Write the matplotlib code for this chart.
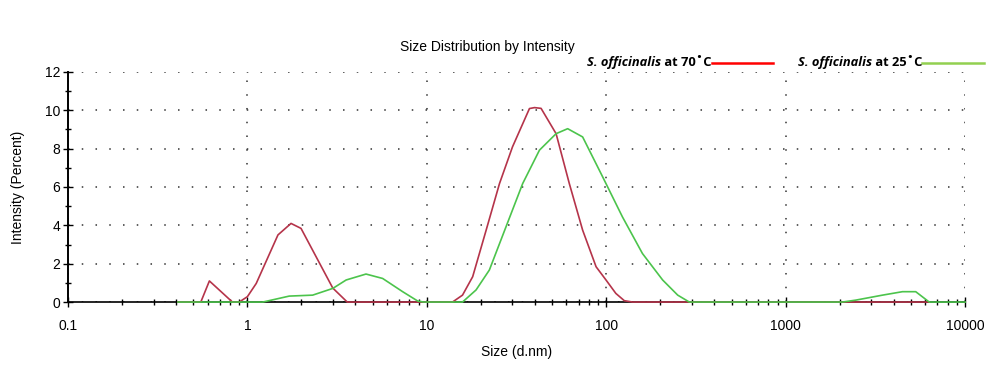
import numpy as np
import matplotlib.pyplot as plt
from matplotlib.ticker import FixedLocator, NullFormatter

# red: S. officinalis at 70 C
size_70 = [0.41, 0.55, 0.614, 0.825, 0.90, 1.0, 1.12, 1.48, 1.75, 1.99, 2.99, 3.6,
           13.9, 15.8, 18.0, 21.4, 25.4, 30.0, 37.3, 39.8, 43.3, 52.5, 62.2, 73.8,
           87.7, 99.6, 113, 126, 140, 6300]
int_70 = [0, 0, 1.1, 0, 0, 0.28, 0.97, 3.5, 4.1, 3.84, 0.73, 0,
          0, 0.36, 1.32, 3.75, 6.18, 8.09, 10.09, 10.14, 10.1, 8.78, 6.18, 3.75,
          1.84, 1.15, 0.45, 0.07, 0, 0]

# green: S. officinalis at 25 C
size_25 = [0.41, 1.22, 1.71, 2.31, 2.99, 3.55, 4.58, 5.67, 7.33, 8.9, 9.6,
           15.8, 18.8, 22.3, 27.6, 34.2, 42.4, 52.5, 60.9, 73.8, 95.4, 123, 159, 206,
           250, 290, 2070, 2456, 3460, 4470, 5300, 6300, 10000]
int_25 = [0, 0, 0.31, 0.36, 0.71, 1.15, 1.46, 1.23, 0.54, 0.05, 0,
          0, 0.63, 1.67, 3.92, 6.18, 7.92, 8.78, 9.04, 8.61, 6.53, 4.44, 2.53, 1.15,
          0.36, 0, 0, 0.1, 0.36, 0.54, 0.54, 0, 0]

x_ticks = [0.1, 1, 10, 100, 1000, 10000]
x_labels = ["0.1", "1", "10", "100", "1000", "10000"]
y_ticks = [0, 2, 4, 6, 8, 10, 12]

plt.rcParams['font.family'] = ['Liberation Sans', 'DejaVu Sans']

fig = plt.figure(figsize=(9.92, 3.67), dpi=100)
ax = fig.add_axes([0.0685, 0.177, 0.9045, 0.627])

ax.plot(size_70, int_70, color='#b5344a', lw=1.2, zorder=4, clip_on=False)
ax.plot(size_25, int_25, color='#4cc44c', lw=1.2, zorder=4, clip_on=False)

ax.set_xscale('log')
ax.set_xlim(0.1, 10000)
ax.set_ylim(0, 12)

ax.set_xticks(x_ticks)
ax.set_xticklabels(x_labels, fontsize=10)
minors = [m * d for d in x_ticks[:-1] for m in range(2, 10)]
ax.xaxis.set_minor_locator(FixedLocator(minors))
ax.xaxis.set_minor_formatter(NullFormatter())
ax.tick_params(axis='x', which='major', direction='inout', length=7, width=1.0, pad=9)
ax.tick_params(axis='x', which='minor', direction='inout', length=4, width=1.0)

ax.set_yticks(y_ticks)
ax.set_yticklabels([str(v) for v in y_ticks], fontsize=10)
ax.yaxis.set_minor_locator(FixedLocator([1, 3, 5, 7, 9, 11]))
ax.tick_params(axis='y', which='major', direction='inout', length=7, width=1.0, pad=2)
ax.tick_params(axis='y', which='minor', direction='inout', length=5, width=1.0)

for s in ['top', 'right']:
    ax.spines[s].set_visible(False)
ax.spines['left'].set_linewidth(1.4)
ax.spines['bottom'].set_linewidth(1.2)

ax.grid(True, which='major', linestyle=(0, (1, 8)), color='#333333', lw=1.1)
ax.set_axisbelow(True)

ax.set_xlabel("Size (d.nm)", fontsize=10, labelpad=8)
ax.set_ylabel("Intensity (Percent)", fontsize=10, labelpad=14)
fig.text(0.491, 0.872, "Size Distribution by Intensity", ha='center', va='center', fontsize=10)

# legend
leg_font = ['Open Sans', 'DejaVu Sans']
entries = [("at 70˚C", '#ff0000', 0.592), ("at 25˚C", '#92d050', 0.804)]
for label, col, x0 in entries:
    t1 = fig.text(x0, 0.829, "S. officinalis", fontsize=9.3, fontweight='bold',
                  style='italic', family=leg_font, va='center')
    t2 = fig.text(0, 0, " " + label, fontsize=9.3, fontweight='bold', family=leg_font,
                  va='center')
    fig.canvas.draw()
    bb = t1.get_window_extent()
    fig_w = fig.bbox.width
    t2.set_position((bb.x1 / fig_w, 0.829))
    fig.canvas.draw()
    bb2 = t2.get_window_extent()
    xs = bb2.x1 / fig_w
    fig.add_artist(plt.Line2D([xs, xs + 0.062], [0.829, 0.829], color=col, lw=1.8,
                              transform=fig.transFigure))

fig.savefig("out.png", dpi=100)
